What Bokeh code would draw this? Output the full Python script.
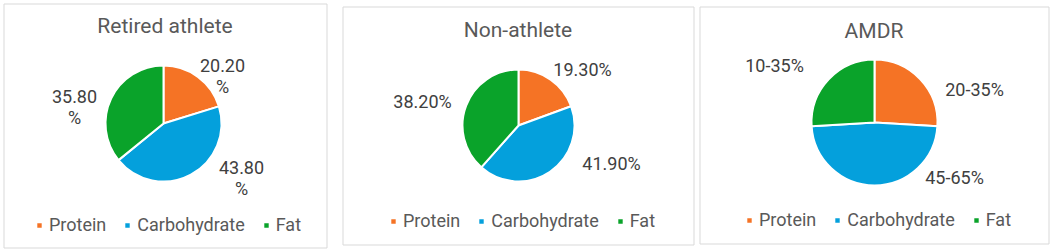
import math
from bokeh.plotting import figure
from bokeh.models import ColumnDataSource, Range1d, Legend, LegendItem
from bokeh.core.properties import value
from bokeh.embed import file_html
from bokeh.resources import INLINE

# ---------------- data ----------------
categories = ["Protein", "Carbohydrate", "Fat"]
titles = ["Retired athlete", "Non-athlete", "AMDR"]
retired_values = [20.2, 43.8, 35.8]
non_athlete_values = [19.3, 41.9, 38.2]
amdr_values = [35, 65, 35]            # upper bound of each AMDR range
amdr_labels = ["20-35%", "45-65%", "10-35%"]
colors = ["#F57325", "#04A0DC", "#0AA32A"]

retired_labels = [f"{v:.2f}\n%" for v in retired_values]
non_athlete_labels = [f"{v:.2f}%" for v in non_athlete_values]

# ---------------- layout (screen px, y down) ----------------
W, H = 1052, 250
FONT = "Roboto"
panels = [
    dict(box=(3, 3, 326, 247), c=(163, 123), r=58, ty=25,
         off=[(59, -48), (78, 54), (-89, -17)], leg=(35, 235)),
    dict(box=(342, 6, 693, 244), c=(518, 125), r=56, ty=29,
         off=[(64, -56), (93, 38), (-96, -24)], leg=(389, 231)),
    dict(box=(699, 6, 1048, 243), c=(874, 122), r=63, ty=30,
         off=[(100, -33), (80, 55), (-100, -57)], leg=(745, 230)),
]
series = [
    (retired_values, retired_labels),
    (non_athlete_values, non_athlete_labels),
    (amdr_values, amdr_labels),
]

p = figure(width=W, height=H, output_backend="svg", toolbar_location=None,
           x_range=Range1d(0, W), y_range=Range1d(0, H), min_border=0)
p.axis.visible = False
p.grid.visible = False
p.outline_line_color = None
p.background_fill_color = "white"
p.border_fill_color = "white"

for k, (pan, (vals, labs)) in enumerate(zip(panels, series)):
    l, t, r, b = pan["box"]
    p.quad(left=[l + 0.5], right=[r + 0.5], top=[H - t - 0.5], bottom=[H - b - 0.5],
           fill_color=None, line_color="#D9D9D9", line_width=1)
    cx, cy = pan["c"]
    total = sum(vals)
    starts, ends = [], []
    acc = 0.0
    for v in vals:
        starts.append(math.pi / 2 - 2 * math.pi * acc / total)
        acc += v
        ends.append(math.pi / 2 - 2 * math.pi * acc / total)
    src = ColumnDataSource(dict(
        x=[cx] * 3, y=[H - cy] * 3, start=starts, end=ends, color=colors,
        cat=categories, val=vals))
    wr = p.wedge(x="x", y="y", radius=pan["r"], radius_units="screen",
                 start_angle="start", end_angle="end", direction="clock",
                 fill_color="color", line_color="white", line_width=2, source=src)
    # data labels
    lx = [cx + dx for dx, dy in pan["off"]]
    ly = [H - (cy + dy) for dx, dy in pan["off"]]
    p.text(x=lx, y=ly, text=labs, text_align="center", text_baseline="middle",
           text_font=value(FONT), text_font_size="18px", text_color="#404040",
           text_line_height=1.0)
    # title
    p.text(x=[(l + r) / 2], y=[H - pan["ty"]], text=[titles[k]], text_align="center",
           text_baseline="middle", text_font=value(FONT), text_font_size="21px",
           text_color="#595959")
    # legend
    items = [LegendItem(label=c, renderers=[wr], index=i) for i, c in enumerate(categories)]
    lx0, ltop = pan["leg"]
    leg = Legend(items=items, orientation="horizontal", location=(lx0, H - ltop),
                 glyph_width=8, glyph_height=8, label_standoff=6, spacing=17,
                 padding=0, margin=0, border_line_color=None, background_fill_alpha=0,
                 label_text_font=FONT, label_text_font_size="18px",
                 label_text_color="#595959", label_height=20)
    p.add_layout(leg, "center")

open("out.html", "w").write(file_html(p, INLINE))
